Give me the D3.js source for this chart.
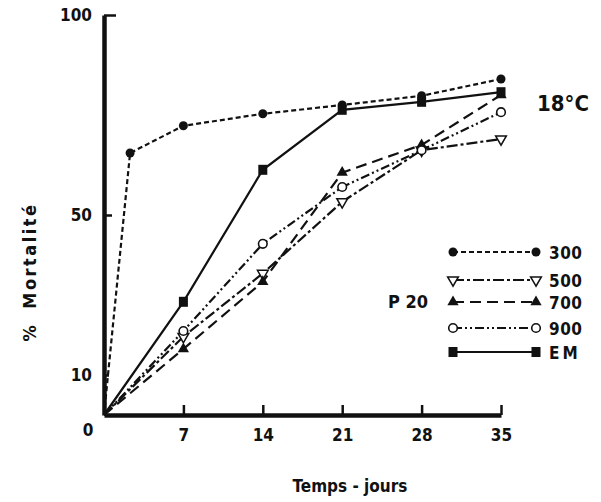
<!DOCTYPE html>
<html>
<head>
<meta charset="utf-8">
<script src="https://cdn.jsdelivr.net/npm/d3@7"></script>
<style>
  body { margin: 0; background: #fff; }
  text { font-family: "DejaVu Sans Condensed", "DejaVu Sans", sans-serif; font-weight: bold; fill: #111; }
</style>
</head>
<body>
<div id="graph"></div>
<script>
// days after start
const days = [0, 7, 14, 21, 28, 35];
const days300 = [0, 2.3, 7, 14, 21, 28, 35];
// % mortality, one array per series
const m300 = [0, 65.5, 72.3, 75.3, 77.5, 79.8, 84];
const m500 = [0, 19.6, 35.4, 53.3, 66.2, 69];
const m700 = [0, 16.5, 33.3, 60.6, 67.5, 80];
const m900 = [0, 21, 42.8, 57, 66.2, 75.7];
const mEM = [0, 28.3, 61.3, 76.3, 78.3, 80.7];
const seriesNames = ['300', '500', '700', '900', 'EM'];
const xTicks = [7, 14, 21, 28, 35];
const yTicks = [0, 10, 50, 100];

const w = 601, h = 502;
const svg = d3.select('#graph').append('svg').attr('width', w).attr('height', h);

const xScale = d3.scaleLinear().domain([0, 35]).range([104, 501]);
const yScale = d3.scaleLinear().domain([0, 100]).range([415, 15]);

// styles per series
const styles = {
  '300': { dash: '5,3', marker: 'dot' },
  '500': { dash: '11,3,3,3', marker: 'tridown' },
  '700': { dash: '11,6', marker: 'triup' },
  '900': { dash: '9,3,2,3,2,3', marker: 'ring' },
  'EM':  { dash: null, marker: 'square' }
};

const series = [
  { name: '300', x: days300, y: m300 },
  { name: '500', x: days, y: m500 },
  { name: '700', x: days, y: m700 },
  { name: '900', x: days, y: m900 },
  { name: 'EM', x: days, y: mEM }
];

const line = d3.line().x(d => xScale(d[0])).y(d => yScale(d[1]));

function marker(g, type, cx, cy) {
  if (type === 'dot') {
    g.append('circle').attr('cx', cx).attr('cy', cy).attr('r', 4.5).attr('fill', '#111');
  } else if (type === 'ring') {
    g.append('circle').attr('cx', cx).attr('cy', cy).attr('r', 4.3)
      .attr('fill', '#fff').attr('stroke', '#111').attr('stroke-width', 1.6);
  } else if (type === 'square') {
    g.append('rect').attr('x', cx - 4.5).attr('y', cy - 5).attr('width', 9).attr('height', 10).attr('fill', '#111');
  } else if (type === 'triup') {
    g.append('path').attr('d', d3.symbol(d3.symbolTriangle, 55)())
      .attr('transform', 'translate(' + cx + ',' + cy + ')').attr('fill', '#111');
  } else if (type === 'tridown') {
    g.append('path').attr('d', d3.symbol(d3.symbolTriangle, 50)())
      .attr('transform', 'translate(' + cx + ',' + cy + ') rotate(180)')
      .attr('fill', '#fff').attr('stroke', '#111').attr('stroke-width', 1.5);
  }
}

// lines
series.forEach(s => {
  const pts = s.x.map((d, i) => [d, s.y[i]]);
  svg.append('path').datum(pts)
    .attr('d', line)
    .attr('fill', 'none')
    .attr('stroke', '#111')
    .attr('stroke-width', 2.2)
    .attr('stroke-dasharray', styles[s.name].dash);
});
// markers (skip the origin)
series.forEach(s => {
  const g = svg.append('g');
  s.x.forEach((d, i) => {
    if (d === 0) return;
    marker(g, styles[s.name].marker, xScale(d), yScale(s.y[i]));
  });
});

// axes
const xAxis = d3.axisBottom(xScale).tickValues(xTicks).tickSizeInner(-10).tickSizeOuter(0).tickPadding(14);
const yAxis = d3.axisLeft(yScale).tickValues([10, 50, 100]).tickSizeInner(-8).tickSizeOuter(0).tickPadding(12);

const gx = svg.append('g').attr('transform', 'translate(0,' + yScale(0) + ')').call(xAxis);
const gy = svg.append('g').attr('transform', 'translate(' + xScale(0) + ',0)').call(yAxis);

[gx, gy].forEach(g => {
  g.select('.domain').attr('stroke', '#111').attr('stroke-width', 4.5);
  g.selectAll('.tick line').attr('stroke', '#111').attr('stroke-width', 2.5);
  g.selectAll('.tick text').attr('font-size', 17).attr('font-weight', 'bold')
    .attr('font-family', '"DejaVu Sans Condensed", sans-serif').attr('fill', '#111');
});
gy.select('.tick:last-of-type line').attr('x2', 12);
gy.selectAll('.tick').filter(d => d === 10).select('line').attr('x2', 5);

// the 0 label sits below-left of the origin
svg.append('text').attr('x', xScale(0) - 16).attr('y', yScale(0) + 21)
  .attr('text-anchor', 'middle').attr('font-size', 17).text(yTicks[0]);

// axis titles
svg.append('text').attr('x', 350).attr('y', 492).attr('text-anchor', 'middle')
  .attr('font-size', 17).text('Temps - jours');
svg.append('text').attr('transform', 'translate(36,272) rotate(-90)')
  .attr('text-anchor', 'middle').attr('font-size', 18).attr('letter-spacing', 2.5)
  .attr('word-spacing', 6).text('% Mortalité');

// annotations
svg.append('text').attr('x', 537).attr('y', 111).attr('font-size', 22).text('18°C');
svg.append('text').attr('x', 388).attr('y', 308).attr('font-size', 18).text('P 20');

// legend
const legendY = [252, 280, 302, 328, 352];
seriesNames.forEach((n, i) => {
  const y = legendY[i];
  const g = svg.append('g');
  g.append('line').attr('x1', 453).attr('x2', 536).attr('y1', y).attr('y2', y)
    .attr('stroke', '#111').attr('stroke-width', 2).attr('stroke-dasharray', styles[n].dash);
  marker(g, styles[n].marker, 453, y);
  marker(g, styles[n].marker, 536, y);
  g.append('text').attr('x', 549).attr('y', y + 6.5).attr('font-size', 17)
    .attr('letter-spacing', n === 'EM' ? 3 : 0.5).text(n);
});
</script>
</body>
</html>
